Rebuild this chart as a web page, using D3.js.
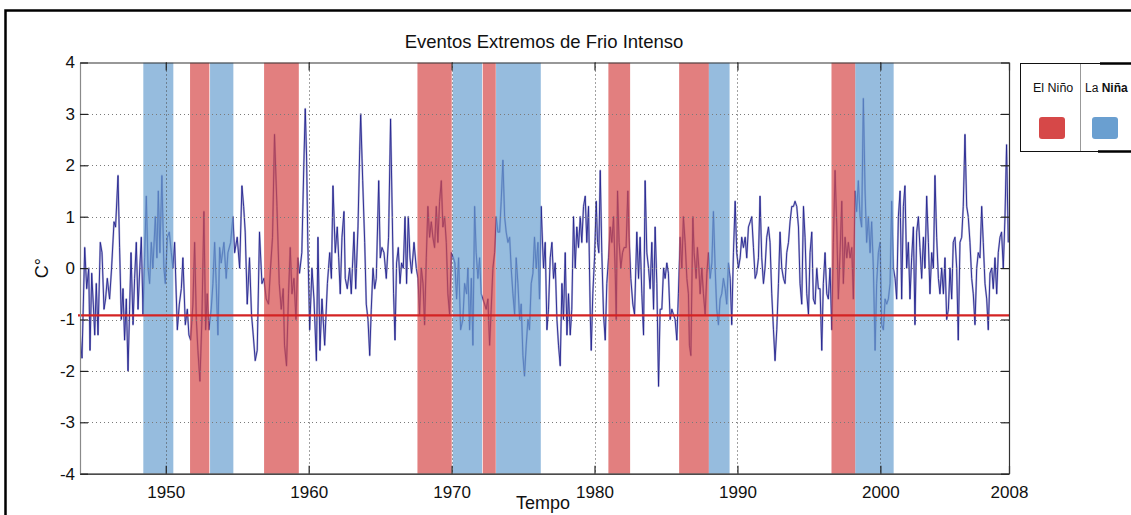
<!DOCTYPE html>
<html>
<head>
<meta charset="utf-8">
<script src="https://cdn.jsdelivr.net/npm/d3@7"></script>
<style>
  html, body { margin: 0; padding: 0; background: #fff; }
  svg { display: block; font-family: "Liberation Sans", Arial, sans-serif; }
</style>
</head>
<body>
<svg id="chart" width="1131" height="515"></svg>
<script>
// Monthly-ish temperature anomaly samples (decimal year, °C)
const anos = [
  1944.00,1944.14,1944.33,1944.47,1944.61,1944.70,1944.82,1944.93,1945.03,1945.14,1945.26,1945.42,1945.54,1945.68,1945.79,1945.91,
  1946.07,1946.21,1946.38,1946.49,1946.66,1946.77,1946.89,1947.01,1947.12,1947.24,1947.36,1947.47,1947.57,1947.71,1947.82,1947.94,
  1948.06,1948.20,1948.29,1948.41,1948.52,1948.64,1948.76,1948.87,1948.99,1949.10,1949.27,1949.38,1949.48,1949.59,1949.73,1949.87,
  1949.97,1950.11,1950.25,1950.39,1950.50,1950.62,1950.81,1950.95,1951.09,1951.20,1951.37,1951.51,1951.62,1951.74,1951.90,1952.02,
  1952.14,1952.25,1952.39,1952.53,1952.67,1952.79,1952.90,1953.02,1953.18,1953.30,1953.42,1953.53,1953.65,1953.77,1953.88,1954.07,
  1954.23,1954.35,1954.54,1954.70,1954.82,1955.00,1955.17,1955.33,1955.45,1955.56,1955.70,1955.86,1956.00,1956.12,1956.26,1956.40,
  1956.56,1956.73,1956.87,1957.03,1957.19,1957.33,1957.47,1957.61,1957.78,1957.94,1958.08,1958.22,1958.31,1958.45,1958.59,1958.71,
  1958.83,1958.97,1959.11,1959.24,1959.36,1959.52,1959.66,1959.76,1959.85,1959.94,
  1960.07,1960.23,1960.37,1960.54,1960.65,1960.79,1960.93,1961.12,1961.31,1961.47,1961.59,1961.70,1961.86,1962.00,1962.10,1962.21,
  1962.33,1962.47,1962.56,1962.70,1962.87,1962.98,1963.17,1963.29,1963.45,1963.57,1963.64,1963.78,1963.92,1964.03,1964.15,1964.27,
  1964.38,1964.50,1964.62,1964.73,1964.90,1965.01,1965.13,1965.27,1965.43,1965.59,1965.73,1965.85,1965.94,1966.04,1966.15,1966.27,
  1966.39,1966.50,1966.62,1966.74,1966.85,1966.97,1967.09,1967.20,1967.37,1967.53,1967.65,1967.76,1967.88,1968.00,1968.11,1968.23,
  1968.34,1968.46,1968.58,1968.69,1968.81,1968.93,1969.04,1969.16,1969.28,1969.39,1969.51,1969.63,1969.74,1969.86,1969.98,1970.12,
  1970.23,1970.35,1970.49,1970.63,1970.79,1970.91,1971.05,1971.14,1971.26,1971.38,1971.49,1971.61,1971.72,1971.84,1971.96,1972.07,
  1972.19,1972.31,1972.42,1972.54,1972.66,1972.77,1972.89,1973.01,1973.12,1973.24,1973.36,1973.47,1973.59,1973.71,1973.82,1973.94,
  1974.06,1974.17,1974.29,1974.41,1974.52,1974.64,1974.76,1974.87,1974.99,1975.10,1975.22,1975.34,1975.45,1975.57,1975.69,1975.80,
  1975.92,1976.04,1976.15,1976.27,
  1976.32,1976.43,1976.55,1976.67,1976.78,1976.90,1977.02,1977.13,1977.25,1977.37,1977.48,1977.60,1977.72,1977.83,1977.95,1978.07,
  1978.18,1978.30,1978.41,1978.53,1978.65,1978.76,1978.88,1979.00,1979.11,1979.23,1979.35,1979.46,1979.58,1979.70,1979.77,1979.88,
  1980.00,1980.12,1980.21,1980.30,1980.40,1980.51,1980.63,1980.75,1980.86,1980.98,1981.10,1981.21,1981.33,1981.45,1981.52,1981.61,
  1981.72,1981.84,1981.96,1982.07,1982.21,1982.33,1982.42,1982.54,1982.68,1982.80,1982.96,1983.08,1983.19,1983.31,1983.43,1983.54,
  1983.66,1983.78,1983.89,1984.01,1984.13,1984.24,1984.36,1984.48,1984.59,1984.71,1984.83,1984.94,1985.06,1985.17,1985.29,1985.41,
  1985.52,1985.64,1985.76,1985.87,1985.99,1986.11,1986.22,1986.34,1986.46,1986.57,1986.64,1986.74,1986.88,1986.97,1987.11,1987.20,
  1987.30,1987.39,1987.51,1987.62,1987.74,1987.86,1987.97,1988.09,1988.21,1988.32,1988.44,1988.55,1988.67,1988.79,1988.90,1989.02,
  1989.14,1989.25,1989.37,1989.49,1989.60,1989.72,1989.84,1989.95,1990.07,1990.19,1990.30,1990.42,1990.54,1990.65,1990.77,1990.89,
  1991.00,1991.12,1991.24,1991.35,1991.47,1991.58,1991.70,1991.82,1991.93,1992.05,1992.17,1992.28,1992.40,1992.52,
  1992.63,1992.75,1992.87,1992.98,1993.10,1993.22,1993.33,1993.45,1993.57,1993.68,1993.80,1993.92,1994.03,1994.15,1994.27,1994.38,
  1994.50,1994.62,1994.73,1994.85,1994.97,1995.08,1995.20,1995.31,1995.43,1995.55,1995.66,1995.78,1995.90,1996.01,1996.13,1996.25,
  1996.36,1996.48,1996.60,1996.71,1996.83,1996.95,1997.06,1997.18,1997.30,1997.41,1997.53,1997.65,1997.76,1997.88,1998.00,1998.11,
  1998.23,1998.34,1998.46,1998.58,1998.69,1998.81,1998.93,1999.04,1999.16,1999.28,1999.39,1999.51,1999.63,1999.74,1999.86,1999.98,
  2000.09,2000.21,2000.33,2000.44,2000.56,2000.68,2000.79,2000.91,2001.03,2001.14,2001.26,2001.38,2001.49,2001.61,2001.72,2001.84,
  2001.96,2002.07,2002.19,2002.31,2002.42,2002.54,2002.66,2002.77,2002.89,2003.01,2003.12,2003.24,2003.36,2003.47,2003.59,2003.71,
  2003.82,2003.94,2004.06,2004.17,2004.29,2004.41,2004.52,2004.64,2004.76,2004.87,2004.99,2005.10,2005.22,2005.34,2005.45,2005.57,
  2005.69,2005.80,2005.92,2006.04,2006.15,2006.27,2006.39,2006.50,2006.62,2006.74,2006.85,2006.97,2007.09,2007.20,2007.32,2007.44,
  2007.55,2007.67,2007.79,2007.90,2008.02,2008.14,2008.25,2008.37,2008.48,2008.60,2008.72,2008.83,2008.95
];
const anomalias = [
  -1.3,-1.75,0.4,-0.4,0.0,-1.6,-0.1,-0.7,-1.3,-0.3,-1.3,0.5,0.3,-0.8,-0.6,-0.2,
  -0.6,0.0,0.9,0.8,1.8,0.4,-1.0,-0.4,-1.4,-0.6,-2.0,-0.8,0.3,-1.1,-0.2,0.5,
  -0.8,0.1,0.6,-0.9,0.2,1.4,0.0,-0.3,0.5,0.0,1.0,0.2,1.5,0.3,1.8,0.0,
  -0.3,0.6,0.7,0.3,0.0,0.5,-1.2,-0.7,-0.4,0.2,-1.1,-0.8,-1.3,-1.4,-0.7,0.5,
  -1.0,-1.6,-2.2,-1.0,1.1,-1.2,-0.5,-1.2,-0.8,-0.3,0.5,-0.3,-1.3,0.4,0.1,0.5,
  -0.2,0.3,0.5,1.0,0.3,0.6,0.0,1.6,1.2,0.7,-0.7,0.2,-0.9,-1.3,-1.8,-1.6,
  0.7,-0.3,-0.2,-0.6,-0.7,0.0,0.6,2.6,1.2,-0.3,-0.8,-0.4,-1.5,-1.9,-0.5,0.4,
  -0.5,-0.2,-1.0,0.2,-0.1,0.3,2.0,3.1,2.2,0.5,
  -1.2,0.0,-0.6,-1.8,0.6,-1.6,-0.6,-1.5,-0.3,0.3,-0.2,1.6,0.3,0.8,0.2,-0.5,
  0.6,1.1,-0.2,-0.4,0.0,-0.5,0.7,-0.4,0.8,2.3,3.0,1.7,0.5,-0.7,-1.0,-1.7,
  -0.8,0.0,-0.4,-0.2,1.7,0.2,0.4,0.3,-0.2,0.6,2.9,1.0,-0.5,-1.4,0.1,0.4,
  -0.3,0.1,0.0,1.0,-0.3,1.0,0.2,-0.1,0.5,0.0,-0.2,-0.9,0.0,-0.3,-1.1,0.2,
  1.2,0.6,0.9,0.6,0.4,1.2,0.5,1.3,1.7,0.8,1.0,0.5,-0.5,-0.9,0.3,0.2,
  0.1,-0.6,0.2,-1.2,-1.0,-0.3,-0.5,0.0,-1.2,-0.2,-1.5,1.2,0.3,-0.2,0.2,-0.5,
  -0.6,-0.7,-0.8,-0.6,-1.5,-0.8,0.0,0.3,1.0,0.7,0.7,1.3,2.1,1.0,0.7,0.5,
  0.6,0.0,-0.5,-0.9,0.2,-0.3,-1.0,-0.7,-1.7,-2.1,-1.5,-1.0,-1.2,-0.3,-0.1,0.6,
  0.0,0.5,-0.6,1.2,
  0.8,0.0,0.5,-1.2,-0.8,0.2,0.5,-0.2,0.1,-1.0,-1.5,-1.9,-0.3,-1.0,0.3,-1.3,
  -0.5,-1.3,-0.8,1.0,0.0,0.8,0.4,1.0,0.5,1.2,1.4,0.5,1.2,-0.9,-1.6,-0.5,
  0.2,1.3,0.5,0.3,1.9,0.3,-0.9,-1.4,-0.3,0.2,0.8,0.5,1.0,-0.1,-1.0,1.5,
  0.5,0.0,0.3,0.4,0.4,1.5,0.6,-0.2,-0.7,-0.9,0.7,-0.2,0.6,-0.5,-1.3,1.7,
  0.3,0.0,-0.4,0.5,-0.8,0.8,-0.3,-2.3,-0.8,-0.8,0.0,-0.2,0.1,-0.1,-1.0,-0.8,
  -0.9,-1.0,-1.4,-0.5,0.6,0.0,1.0,0.5,-0.2,-0.5,-1.5,-1.7,1.0,0.3,-0.2,0.4,
  0.0,-0.5,0.0,-0.5,-0.9,-0.1,0.3,-0.2,0.1,1.1,0.0,-0.8,-1.1,-0.6,-0.5,-0.2,
  -0.4,-0.7,0.1,-0.2,-1.1,0.3,1.3,0.3,0.0,0.2,0.6,0.4,0.6,0.2,0.8,0.9,
  1.0,0.4,-0.2,-0.1,0.2,1.4,0.2,-0.3,0.0,0.6,0.8,0.5,-0.5,-1.2,
  -1.8,-1.2,-0.3,0.7,0.0,-0.2,-0.3,0.3,0.5,0.9,1.2,1.2,1.3,1.2,0.8,-0.3,
  -0.7,1.2,0.6,-0.5,-0.9,0.3,0.7,-0.6,-0.7,0.0,-0.4,-0.4,-1.6,-0.3,0.3,-0.5,
  -0.6,0.0,-1.2,0.5,1.9,0.8,-0.6,0.3,1.3,-0.3,0.6,0.2,0.5,0.2,0.4,-0.6,
  1.5,1.1,1.7,1.0,0.8,3.3,1.5,0.5,1.0,0.3,0.9,0.0,-1.6,-0.3,0.3,0.5,
  -1.1,-1.2,-0.6,-0.7,-0.6,-0.3,1.3,0.0,-0.2,-0.6,1.0,1.5,-0.6,1.2,1.6,0.0,
  0.5,-0.6,0.2,0.8,-1.1,0.7,1.0,0.4,-0.2,0.6,0.0,1.4,0.5,-0.5,0.3,0.0,
  1.8,0.6,-0.2,-0.5,0.0,-0.5,0.2,-1.0,-0.8,0.0,-0.6,0.5,0.6,0.0,-1.4,0.5,
  0.6,1.2,2.6,1.2,1.0,0.5,-0.2,-0.5,-1.1,0.0,0.3,0.2,1.2,0.5,-0.3,-0.6,
  -1.2,-0.1,0.0,-0.4,0.2,-0.5,0.3,0.6,0.7,0.0,1.0,2.4,0.5
];

// Cold-threshold level (°C)
const limiarFrio = -0.92;

// ENSO episodes: start / end (decimal year) and phase
const episodioInicio = [1948.43, 1951.70, 1953.10, 1956.88, 1967.61, 1970.08, 1972.18, 1973.11, 1980.97, 1985.92, 1988.00, 1996.58, 1998.25];
const episodioFim    = [1950.53, 1953.05, 1954.73, 1959.31, 1970.01, 1972.13, 1973.09, 1976.24, 1982.49, 1988.00, 1989.45, 1998.25, 2000.93];
const episodioFase   = ["nina", "nino", "nina", "nino", "nino", "nina", "nino", "nina", "nino", "nino", "nina", "nino", "nina"];

// Axis ticks
const xTickAnos   = [1950, 1960, 1970, 1980, 1990, 2000, 2009];
const xTickLabels = ["1950", "1960", "1970", "1980", "1990", "2000", "2008"];
const yTicks      = [-4, -3, -2, -1, 0, 1, 2, 3, 4];

const legendaNomes = ["El Niño", "La Niña"];

const corFase = { nino: "rgb(214,72,72)", nina: "rgb(106,159,208)" };

const svg = d3.select("#chart");
const plot = { left: 80, right: 1009, top: 62.5, bottom: 473.7 };

const x = d3.scaleLinear().domain([1944, 2009]).range([plot.left, plot.right]);
const y = d3.scaleLinear().domain([-4, 4]).range([plot.bottom, plot.top]);

// outer figure frame
svg.append("path")
  .attr("d", `M5.5,515 V10.5 H1131`)
  .attr("fill", "none").attr("stroke", "#000").attr("stroke-width", 2.5);

// plot background
svg.append("rect")
  .attr("x", plot.left).attr("y", plot.top)
  .attr("width", plot.right - plot.left).attr("height", plot.bottom - plot.top)
  .attr("fill", "#fff");

svg.append("defs").append("clipPath").attr("id", "plotClip")
  .append("rect")
  .attr("x", plot.left).attr("y", plot.top)
  .attr("width", plot.right - plot.left).attr("height", plot.bottom - plot.top);

const g = svg.append("g").attr("clip-path", "url(#plotClip)");

// anomaly series
const serie = anos.map((a, i) => [a, anomalias[i]]);
const linha = d3.line().x(d => x(d[0])).y(d => y(d[1]));

g.append("path").datum(serie)
  .attr("d", linha)
  .attr("fill", "none")
  .attr("stroke", "#9a9ac8")
  .attr("stroke-width", 2)
  .attr("stroke-linejoin", "round")
  .attr("opacity", 0.7);
g.append("path").datum(serie)
  .attr("d", linha)
  .attr("fill", "none")
  .attr("stroke", "#232390")
  .attr("stroke-width", 0.9)
  .attr("stroke-linejoin", "round");

// ENSO episode bands (translucent, over the series)
const episodios = episodioInicio.map((s, i) => ({ s, e: episodioFim[i], fase: episodioFase[i] }));
g.selectAll("rect.episodio").data(episodios).enter().append("rect")
  .attr("class", "episodio")
  .attr("x", d => x(d.s))
  .attr("width", d => x(d.e) - x(d.s))
  .attr("y", y(4))
  .attr("height", y(-4) - y(4))
  .attr("fill", d => corFase[d.fase])
  .attr("fill-opacity", 0.7);

// grid
const grid = svg.append("g");
grid.selectAll("line.gy").data(yTicks.filter(v => v > -4 && v < 4)).enter().append("line")
  .attr("x1", plot.left).attr("x2", plot.right)
  .attr("y1", d => Math.round(y(d)) + 0.5).attr("y2", d => Math.round(y(d)) + 0.5)
  .attr("stroke", "#7a7a7a").attr("stroke-width", 1).attr("stroke-dasharray", "1,3");
grid.selectAll("line.gx").data(xTickAnos.filter(v => v < 2009)).enter().append("line")
  .attr("y1", plot.top).attr("y2", plot.bottom)
  .attr("x1", d => Math.round(x(d)) + 0.5).attr("x2", d => Math.round(x(d)) + 0.5)
  .attr("stroke", "#444").attr("stroke-width", 1).attr("stroke-dasharray", "1,3");

// cold threshold line
svg.append("line")
  .attr("x1", plot.left - 2).attr("x2", plot.right)
  .attr("y1", y(limiarFrio)).attr("y2", y(limiarFrio))
  .attr("stroke", "#d42323").attr("stroke-width", 2.4);

// axes (box style, ticks pointing inward)
const axisBottom = d3.axisBottom(x).tickValues(xTickAnos)
  .tickFormat((d, i) => xTickLabels[i]).tickSizeInner(-8).tickSizeOuter(0).tickPadding(12);
const axisTop = d3.axisTop(x).tickValues(xTickAnos).tickFormat("").tickSizeInner(-8).tickSizeOuter(0);
const axisLeft = d3.axisLeft(y).tickValues(yTicks).tickFormat(d => String(d))
  .tickSizeInner(-8).tickSizeOuter(0).tickPadding(5);
const axisRight = d3.axisRight(y).tickValues(yTicks).tickFormat("").tickSizeInner(-8).tickSizeOuter(0);

function styleAxis(sel, color) {
  sel.select(".domain").attr("stroke", color).attr("stroke-width", 1.2);
  sel.selectAll(".tick line").attr("stroke", "#222").attr("stroke-width", 1.2);
  sel.selectAll(".tick text").attr("fill", "#111")
    .style("font-size", "17px").style("font-family", "'Liberation Sans', Arial, sans-serif");
}

svg.append("g").attr("transform", `translate(0,${plot.bottom})`).call(axisBottom).call(s => styleAxis(s, "#111"));
svg.append("g").attr("transform", `translate(0,${plot.top})`).call(axisTop).call(s => styleAxis(s, "#333"));
svg.append("g").attr("transform", `translate(${plot.left},0)`).call(axisLeft).call(s => styleAxis(s, "#8a8a8a"));
svg.append("g").attr("transform", `translate(${plot.right},0)`).call(axisRight).call(s => styleAxis(s, "#333"));

// titles
svg.append("text")
  .attr("x", 544).attr("y", 48)
  .attr("text-anchor", "middle")
  .style("font-size", "18.5px").attr("fill", "#111")
  .text("Eventos Extremos de Frio Intenso");

svg.append("text")
  .attr("x", 543).attr("y", 509)
  .attr("text-anchor", "middle")
  .style("font-size", "18px").attr("fill", "#111")
  .text("Tempo");

svg.append("text")
  .attr("transform", `translate(48,${y(0)}) rotate(-90)`)
  .attr("text-anchor", "middle")
  .style("font-size", "18px").attr("fill", "#111")
  .text("C°");

// legend
const leg = svg.append("g");
leg.append("rect")
  .attr("x", 1020.5).attr("y", 63.5).attr("width", 120).attr("height", 88)
  .attr("fill", "#fff").attr("stroke", "#111").attr("stroke-width", 1);
leg.append("line").attr("x1", 1100).attr("x2", 1131).attr("y1", 63.5).attr("y2", 63.5)
  .attr("stroke", "#000").attr("stroke-width", 2.5);
leg.append("line").attr("x1", 1098).attr("x2", 1131).attr("y1", 151.5).attr("y2", 151.5)
  .attr("stroke", "#000").attr("stroke-width", 2.5);
leg.append("line").attr("x1", 1080.5).attr("x2", 1080.5).attr("y1", 64).attr("y2", 151)
  .attr("stroke", "#999").attr("stroke-width", 1);

leg.append("text").attr("x", 1033).attr("y", 92)
  .style("font-size", "12.5px").attr("fill", "#111").text(legendaNomes[0]);
const ln = leg.append("text").attr("x", 1085).attr("y", 92)
  .style("font-size", "12px").attr("fill", "#111");
ln.append("tspan").text(legendaNomes[1].split(" ")[0] + " ");
ln.append("tspan").style("font-weight", "bold")
  .text(legendaNomes[1].split(" ")[1]);

leg.selectAll("rect.sw").data(["nino", "nina"]).enter().append("rect")
  .attr("class", "sw")
  .attr("x", (d, i) => 1039 + i * 53).attr("y", 117)
  .attr("width", 26).attr("height", 22).attr("rx", 3)
  .attr("fill", d => corFase[d]);
</script>
</body>
</html>
